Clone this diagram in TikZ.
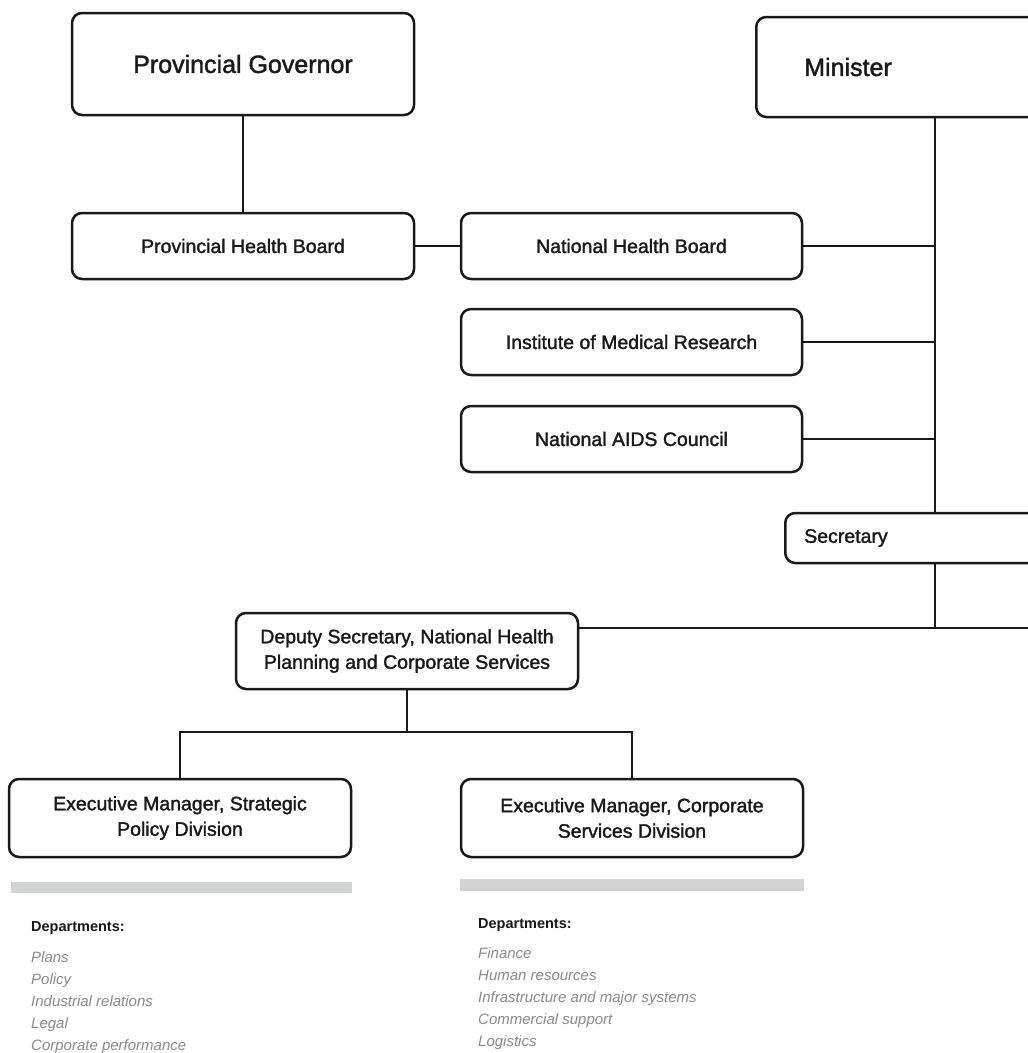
\documentclass[tikz,border=0pt]{standalone}
\usepackage{fontspec}
\setmainfont{Liberation Sans}
\newfontfamily\unitfont[FakeBold=1.6]{Liberation Sans}
\definecolor{inkcol}{RGB}{25,25,25}
\definecolor{barcol}{RGB}{210,211,211}
\definecolor{itemcol}{RGB}{138,138,138}

\begin{document}
\begin{tikzpicture}[x=1pt, y=-1pt,
  unit/.style={draw=inkcol, line width=2.5pt, rounded corners=10pt, align=center,
    inner sep=0pt, text=inkcol, font=\unitfont\fontsize{19.5}{25.5}\selectfont},
  topunit/.style={unit, font=\unitfont\fontsize{25}{30}\selectfont},
  link/.style={draw=inkcol, line width=2.2pt},
  depthead/.style={inner sep=0pt, anchor=base west, text=inkcol,
    font=\bfseries\fontsize{14.5}{17}\selectfont},
  deptitem/.style={inner sep=0pt, anchor=base west, text=itemcol,
    font=\itshape\fontsize{15}{18}\selectfont}]
\fill[white] (0,0) rectangle (1028,1053);
\path[use as bounding box, clip] (0,0) rectangle (1028,1053);

\node[topunit, minimum width=342pt, minimum height=102pt] (gov) at (243,64) {Provincial Governor};
\node[topunit, anchor=west, minimum height=100pt, text width=230pt, inner xsep=48pt, align=left] (minister) at (755,67) {Minister};

\node[unit, minimum width=342pt, minimum height=66pt] (phb) at (243,246) {Provincial Health Board};
\node[unit, minimum width=341pt, minimum height=66pt] (nhb) at (631.5,246) {National Health Board};
\node[unit, minimum width=341pt, minimum height=66pt] (imr) at (631.5,342) {Institute of Medical Research};
\node[unit, minimum width=341pt, minimum height=66pt] (nac) at (631.5,439) {National AIDS Council};
\node[unit, anchor=west, minimum height=50pt, text width=240pt, inner xsep=19pt, align=left] (sec) at (784,538) {Secretary};

\node[unit, minimum width=342pt, minimum height=76pt] (dep) at (407,651) {Deputy Secretary, National Health\\Planning and Corporate Services};
\node[unit, minimum width=342pt, minimum height=78pt] (ems) at (180,818) {Executive Manager, Strategic\\Policy Division};
\node[unit, minimum width=342pt, minimum height=78pt] (emc) at (632,818) {Executive Manager, Corporate\\Services Division};

\coordinate (spine) at (935,0);
\coordinate (jn) at (935,628);
\coordinate (edge) at (1040,0);
\coordinate (fork) at (407,732);

\draw[link] (gov.south) -- (phb.north);
\draw[link] (phb.east) -- (nhb.west);
\draw[link] (minister.south -| spine) -- (sec.north -| spine);
\foreach \u in {nhb,imr,nac}
  \draw[link] (\u.east) -- (\u.east -| spine);
\draw[link] (sec.south -| jn) -- (jn);
\draw[link] (dep.east |- jn) -- (edge |- jn);
\draw[link] (dep.south) -- (fork);
\draw[link] (ems.north) |- (fork) -| (emc.north);

\fill[barcol] (11,882) rectangle (352,893);
\fill[barcol] (460,879) rectangle (804,891);

\node[depthead] (deptL) at (31,931) {Departments:};
\foreach \d [count=\i] in {Plans, Policy, Industrial relations, Legal, Corporate performance}
  \node[deptitem] (itemL\i) at (31,940+22*\i) {\d};
\node[depthead] (deptR) at (478,928) {Departments:};
\foreach \d [count=\i] in {Finance, Human resources, Infrastructure and major systems, Commercial support, Logistics}
  \node[deptitem] (itemR\i) at (478,936+22*\i) {\d};
\end{tikzpicture}
\end{document}
